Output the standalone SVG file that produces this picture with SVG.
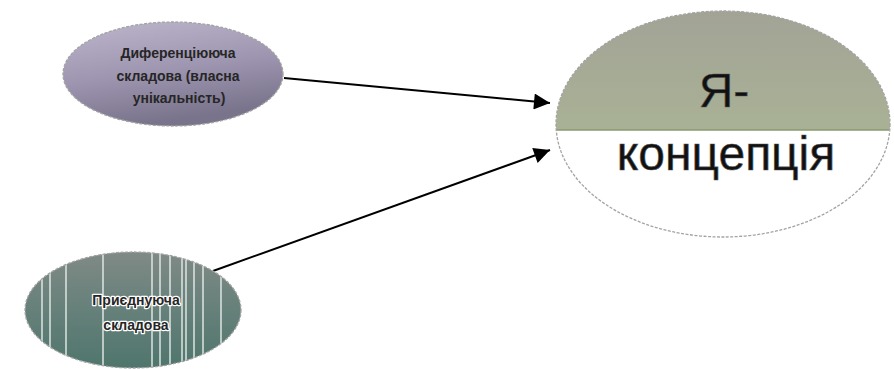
<svg xmlns="http://www.w3.org/2000/svg" width="894" height="369" viewBox="0 0 894 369">
  <style>
    .edge { fill: none; stroke: #a3a3a3; stroke-width: 1.3; stroke-dasharray: 3 1.5; }
    .small { font-family: "Liberation Sans", Arial, sans-serif; font-size: 14px; font-weight: bold; fill: #262626; text-anchor: middle; }
    .halo { stroke: #ffffff; stroke-width: 2.5; stroke-linejoin: round; paint-order: stroke; fill: #262626; }
    .big { font-family: "Liberation Sans", Arial, sans-serif; font-size: 48px; fill: #111; text-anchor: middle; stroke: #555; stroke-width: 0.6; }
    .link { stroke: #000; stroke-width: 2; fill: none; marker-end: url(#head); }
    .stripe { stroke: #e6ece9; stroke-width: 1.4; }
  </style>
  <defs>
    <marker id="head" viewBox="0 0 10 10" refX="10" refY="5" markerWidth="8.5" markerHeight="8" orient="auto" markerUnits="strokeWidth">
      <path d="M0,0 L10,5 L0,10 z" fill="#000"/>
    </marker>
    <linearGradient id="violet" x1="0" y1="0" x2="0.3" y2="1">
      <stop offset="0" stop-color="#bdb6cc"/>
      <stop offset="0.55" stop-color="#9e96b0"/>
      <stop offset="1" stop-color="#7a738c"/>
    </linearGradient>
    <linearGradient id="teal" x1="0" y1="0" x2="0" y2="1">
      <stop offset="0" stop-color="#808a86"/>
      <stop offset="0.5" stop-color="#66807a"/>
      <stop offset="1" stop-color="#4f766c"/>
    </linearGradient>
    <linearGradient id="olive" x1="0" y1="0" x2="0" y2="1">
      <stop offset="0" stop-color="#a2a396"/>
      <stop offset="0.55" stop-color="#a9b295"/>
      <stop offset="0.9" stop-color="#9dac84"/>
      <stop offset="1" stop-color="#86996c"/>
    </linearGradient>
    <clipPath id="upperHalf">
      <rect x="550" y="0" width="344" height="130"/>
    </clipPath>
    <clipPath id="tealShape">
      <ellipse cx="133" cy="310" rx="108" ry="58"/>
    </clipPath>
  </defs>

  <!-- connectors -->
  <g id="connectors">
    <line class="link" x1="284" y1="78" x2="550" y2="103"/>
    <line class="link" x1="213" y1="271" x2="550" y2="150"/>
  </g>

  <!-- differentiating component -->
  <g id="node-diff">
    <ellipse cx="173" cy="74" rx="110" ry="52" fill="url(#violet)"/>
    <ellipse class="edge" cx="173" cy="74" rx="110" ry="52"/>
    <text class="small" x="178" y="58">Диференціююча</text>
    <text class="small" x="178" y="81">складова (власна</text>
    <text class="small" x="179" y="103">унікальність)</text>
  </g>

  <!-- joining component -->
  <g id="node-join">
    <ellipse cx="133" cy="310" rx="108" ry="58" fill="url(#teal)"/>
    <g clip-path="url(#tealShape)">
      <line class="stripe" x1="42" y1="240" x2="42" y2="369"/>
      <line class="stripe" x1="50" y1="240" x2="50" y2="369"/>
      <line class="stripe" x1="66" y1="240" x2="66" y2="369"/>
      <line class="stripe" x1="103" y1="240" x2="103" y2="369"/>
      <line class="stripe" x1="152" y1="240" x2="152" y2="369"/>
      <line class="stripe" x1="160" y1="240" x2="160" y2="369"/>
      <line class="stripe" x1="170" y1="240" x2="170" y2="369"/>
      <line class="stripe" x1="182" y1="240" x2="182" y2="369"/>
      <line class="stripe" x1="186" y1="240" x2="186" y2="369"/>
      <line class="stripe" x1="194" y1="240" x2="194" y2="369"/>
      <line class="stripe" x1="203" y1="240" x2="203" y2="369"/>
      <line class="stripe" x1="221" y1="240" x2="221" y2="369"/>
    </g>
    <ellipse class="edge" cx="133" cy="310" rx="108" ry="58"/>
    <text class="small halo" x="136" y="305">Приєднуюча</text>
    <text class="small halo" x="136" y="330">складова</text>
  </g>

  <!-- self-concept -->
  <g id="node-self">
    <ellipse cx="723" cy="124" rx="167" ry="113" fill="#fff"/>
    <ellipse cx="723" cy="124" rx="167" ry="113" fill="url(#olive)" clip-path="url(#upperHalf)"/>
    <line x1="557" y1="130" x2="889" y2="130" stroke="#8a9a70" stroke-width="1.5"/>
    <ellipse class="edge" cx="723" cy="124" rx="167" ry="113"/>
    <text class="big" x="724" y="107">Я-</text>
    <text class="big" x="726" y="170">концепція</text>
  </g>
</svg>
